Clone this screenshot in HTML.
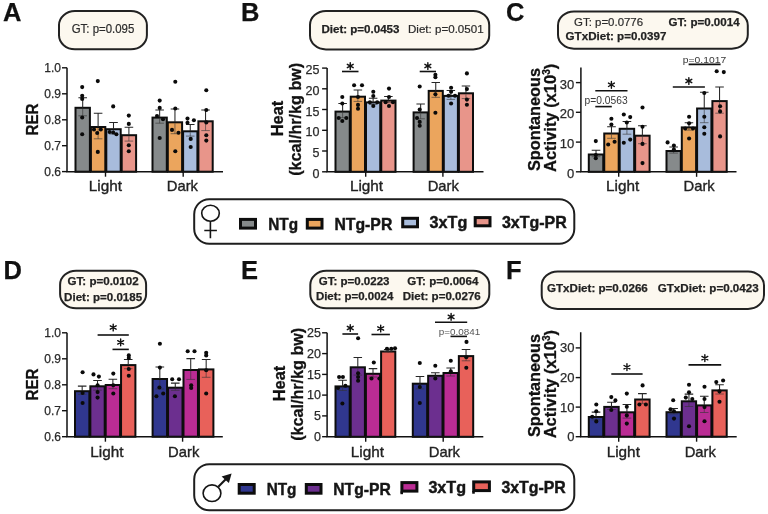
<!DOCTYPE html><html><head><meta charset="utf-8"><style>html,body{margin:0;padding:0;background:#fff;width:768px;height:514px;overflow:hidden}svg{display:block;will-change:transform}</style></head><body>
<svg width="768" height="514" viewBox="0 0 768 514" font-family='"Liberation Sans", sans-serif'>
<rect width="768" height="514" fill="#fff"/>
<text x="3" y="20.7" font-size="25.5" font-weight="bold" fill="#111" text-anchor="start" stroke="#111" stroke-width="0.25">A</text>
<text x="241" y="20.7" font-size="25.5" font-weight="bold" fill="#111" text-anchor="start" stroke="#111" stroke-width="0.25">B</text>
<text x="506" y="20.7" font-size="25.5" font-weight="bold" fill="#111" text-anchor="start" stroke="#111" stroke-width="0.25">C</text>
<text x="3.5" y="279.3" font-size="25.5" font-weight="bold" fill="#111" text-anchor="start" stroke="#111" stroke-width="0.25">D</text>
<text x="241" y="279.3" font-size="25.5" font-weight="bold" fill="#111" text-anchor="start" stroke="#111" stroke-width="0.25">E</text>
<text x="506" y="279.3" font-size="25.5" font-weight="bold" fill="#111" text-anchor="start" stroke="#111" stroke-width="0.25">F</text>
<rect x="59.0" y="11.1" width="87.90000000000002" height="38.2" rx="16" ry="14" fill="#fcf8ef" stroke="#222" stroke-width="2"/>
<text x="71.7" y="33.0" font-size="12.2" fill="#2b2b2b" text-anchor="start" textLength="62.6" lengthAdjust="spacingAndGlyphs" stroke="#2b2b2b" stroke-width="0.2">GT: p=0.095</text>
<rect x="310.0" y="11.0" width="179.2" height="38.4" rx="16" ry="14" fill="#fcf8ef" stroke="#222" stroke-width="2"/>
<text x="321.4" y="33.0" font-size="10.8" font-weight="bold" fill="#222" text-anchor="start" textLength="78.1" lengthAdjust="spacingAndGlyphs" stroke="#222" stroke-width="0.25">Diet: p=0.0453</text>
<text x="408" y="33.0" font-size="10.8" fill="#2b2b2b" text-anchor="start" textLength="75.6" lengthAdjust="spacingAndGlyphs" stroke="#2b2b2b" stroke-width="0.2">Diet: p=0.0501</text>
<rect x="558.0" y="11.4" width="189.8" height="37.3" rx="16" ry="14" fill="#fcf8ef" stroke="#222" stroke-width="2"/>
<text x="574.1" y="25.6" font-size="11.8" fill="#2b2b2b" text-anchor="start" textLength="69" lengthAdjust="spacingAndGlyphs" stroke="#2b2b2b" stroke-width="0.2">GT: p=0.0776</text>
<text x="668.6" y="25.6" font-size="11.6" font-weight="bold" fill="#222" text-anchor="start" textLength="71" lengthAdjust="spacingAndGlyphs" stroke="#222" stroke-width="0.25">GT: p=0.0014</text>
<text x="565.6" y="40.4" font-size="11.6" font-weight="bold" fill="#222" text-anchor="start" textLength="100.8" lengthAdjust="spacingAndGlyphs" stroke="#222" stroke-width="0.25">GTxDiet: p=0.0397</text>
<rect x="60.1" y="270.7" width="86.0" height="37.59999999999998" rx="16" ry="14" fill="#fcf8ef" stroke="#222" stroke-width="2"/>
<text x="67.6" y="285" font-size="11.2" font-weight="bold" fill="#222" text-anchor="start" textLength="71" lengthAdjust="spacingAndGlyphs" stroke="#222" stroke-width="0.25">GT: p=0.0102</text>
<text x="64.1" y="300.5" font-size="11.2" font-weight="bold" fill="#222" text-anchor="start" textLength="78" lengthAdjust="spacingAndGlyphs" stroke="#222" stroke-width="0.25">Diet: p=0.0185</text>
<rect x="310.29999999999995" y="270.79999999999995" width="179.0" height="37.500000000000014" rx="16" ry="14" fill="#fcf8ef" stroke="#222" stroke-width="2"/>
<text x="318.7" y="284.9" font-size="11.1" font-weight="bold" fill="#222" text-anchor="start" textLength="70.8" lengthAdjust="spacingAndGlyphs" stroke="#222" stroke-width="0.25">GT: p=0.0223</text>
<text x="315.9" y="300.2" font-size="11.1" font-weight="bold" fill="#222" text-anchor="start" textLength="77.4" lengthAdjust="spacingAndGlyphs" stroke="#222" stroke-width="0.25">Diet: p=0.0024</text>
<text x="407.3" y="284.9" font-size="11.1" font-weight="bold" fill="#222" text-anchor="start" textLength="71.1" lengthAdjust="spacingAndGlyphs" stroke="#222" stroke-width="0.25">GT: p=0.0064</text>
<text x="402.7" y="300.2" font-size="11.1" font-weight="bold" fill="#222" text-anchor="start" textLength="78.1" lengthAdjust="spacingAndGlyphs" stroke="#222" stroke-width="0.25">Diet: p=0.0276</text>
<rect x="541.6999999999999" y="271.4" width="222.3" height="37.500000000000014" rx="16" ry="14" fill="#fcf8ef" stroke="#222" stroke-width="2"/>
<text x="547" y="292.4" font-size="11.1" font-weight="bold" fill="#222" text-anchor="start" textLength="100.8" lengthAdjust="spacingAndGlyphs" stroke="#222" stroke-width="0.25">GTxDiet: p=0.0266</text>
<text x="657.7" y="292.4" font-size="11.1" font-weight="bold" fill="#222" text-anchor="start" textLength="101" lengthAdjust="spacingAndGlyphs" stroke="#222" stroke-width="0.25">GTxDiet: p=0.0423</text>
<rect x="75.50" y="107.80" width="14.40" height="63.90" fill="#868a8b" stroke="#0d0d0d" stroke-width="2"/>
<rect x="90.90" y="127.00" width="14.40" height="44.70" fill="#eba55d" stroke="#0d0d0d" stroke-width="2"/>
<rect x="106.30" y="129.20" width="14.40" height="42.50" fill="#a8bcdc" stroke="#0d0d0d" stroke-width="2"/>
<rect x="121.70" y="135.20" width="14.40" height="36.50" fill="#e8958a" stroke="#0d0d0d" stroke-width="2"/>
<path d="M82.70 97.80V107.80M78.39 97.80H87.01" stroke="#262626" stroke-width="1.05" fill="none"/>
<path d="M82.70 108.80V115.80M78.39 115.80H87.01" stroke="#333" stroke-opacity="0.6" stroke-width="1" fill="none"/>
<path d="M98.10 113.20V127.00M93.79 113.20H102.41" stroke="#262626" stroke-width="1.05" fill="none"/>
<path d="M98.10 128.00V138.80M93.79 138.80H102.41" stroke="#333" stroke-opacity="0.6" stroke-width="1" fill="none"/>
<path d="M113.50 122.40V129.20M109.19 122.40H117.81" stroke="#262626" stroke-width="1.05" fill="none"/>
<path d="M113.50 130.20V134.00M109.19 134.00H117.81" stroke="#333" stroke-opacity="0.6" stroke-width="1" fill="none"/>
<path d="M128.90 127.30V135.20M124.59 127.30H133.21" stroke="#262626" stroke-width="1.05" fill="none"/>
<path d="M128.90 136.20V141.10M124.59 141.10H133.21" stroke="#333" stroke-opacity="0.6" stroke-width="1" fill="none"/>
<rect x="152.50" y="117.60" width="14.30" height="54.10" fill="#868a8b" stroke="#0d0d0d" stroke-width="2"/>
<rect x="167.80" y="122.30" width="14.30" height="49.40" fill="#eba55d" stroke="#0d0d0d" stroke-width="2"/>
<rect x="183.10" y="131.30" width="14.30" height="40.40" fill="#a8bcdc" stroke="#0d0d0d" stroke-width="2"/>
<rect x="198.40" y="121.30" width="14.30" height="50.40" fill="#e8958a" stroke="#0d0d0d" stroke-width="2"/>
<path d="M159.65 110.00V117.60M155.37 110.00H163.93" stroke="#262626" stroke-width="1.05" fill="none"/>
<path d="M159.65 118.60V123.20M155.37 123.20H163.93" stroke="#333" stroke-opacity="0.6" stroke-width="1" fill="none"/>
<path d="M174.95 108.90V122.30M170.67 108.90H179.23" stroke="#262626" stroke-width="1.05" fill="none"/>
<path d="M174.95 123.30V133.70M170.67 133.70H179.23" stroke="#333" stroke-opacity="0.6" stroke-width="1" fill="none"/>
<path d="M190.25 124.50V131.30M185.97 124.50H194.53" stroke="#262626" stroke-width="1.05" fill="none"/>
<path d="M190.25 132.30V136.10M185.97 136.10H194.53" stroke="#333" stroke-opacity="0.6" stroke-width="1" fill="none"/>
<path d="M205.55 110.00V121.30M201.27 110.00H209.83" stroke="#262626" stroke-width="1.05" fill="none"/>
<path d="M205.55 122.30V130.60M201.27 130.60H209.83" stroke="#333" stroke-opacity="0.6" stroke-width="1" fill="none"/>
<circle cx="82.2" cy="87.1" r="2.05" fill="#0a0a0a"/>
<circle cx="82.2" cy="95.7" r="2.05" fill="#0a0a0a"/>
<circle cx="82.2" cy="98.9" r="2.05" fill="#0a0a0a"/>
<circle cx="82.2" cy="117.5" r="2.05" fill="#0a0a0a"/>
<circle cx="82.2" cy="134.2" r="2.05" fill="#0a0a0a"/>
<circle cx="97.8" cy="81.1" r="2.05" fill="#0a0a0a"/>
<circle cx="94" cy="129.5" r="2.05" fill="#0a0a0a"/>
<circle cx="100.8" cy="129.5" r="2.05" fill="#0a0a0a"/>
<circle cx="97.2" cy="133" r="2.05" fill="#0a0a0a"/>
<circle cx="97.8" cy="151.9" r="2.05" fill="#0a0a0a"/>
<circle cx="113.2" cy="106.4" r="2.05" fill="#0a0a0a"/>
<circle cx="109.6" cy="132" r="2.05" fill="#0a0a0a"/>
<circle cx="116.4" cy="134.2" r="2.05" fill="#0a0a0a"/>
<circle cx="113.2" cy="132.5" r="2.05" fill="#0a0a0a"/>
<circle cx="128.8" cy="115.6" r="2.05" fill="#0a0a0a"/>
<circle cx="128.8" cy="123.9" r="2.05" fill="#0a0a0a"/>
<circle cx="128.8" cy="145.3" r="2.05" fill="#0a0a0a"/>
<circle cx="128.8" cy="151.3" r="2.05" fill="#0a0a0a"/>
<circle cx="159.7" cy="100.6" r="2.05" fill="#0a0a0a"/>
<circle cx="159.7" cy="107.9" r="2.05" fill="#0a0a0a"/>
<circle cx="157" cy="116" r="2.05" fill="#0a0a0a"/>
<circle cx="163" cy="119.2" r="2.05" fill="#0a0a0a"/>
<circle cx="159.7" cy="138" r="2.05" fill="#0a0a0a"/>
<circle cx="175.3" cy="81.8" r="2.05" fill="#0a0a0a"/>
<circle cx="175.3" cy="108.5" r="2.05" fill="#0a0a0a"/>
<circle cx="172" cy="129.9" r="2.05" fill="#0a0a0a"/>
<circle cx="178.5" cy="132.7" r="2.05" fill="#0a0a0a"/>
<circle cx="175.3" cy="151.3" r="2.05" fill="#0a0a0a"/>
<circle cx="187.5" cy="118.6" r="2.05" fill="#0a0a0a"/>
<circle cx="193.9" cy="120.3" r="2.05" fill="#0a0a0a"/>
<circle cx="187.5" cy="122.8" r="2.05" fill="#0a0a0a"/>
<circle cx="190.7" cy="138.9" r="2.05" fill="#0a0a0a"/>
<circle cx="190.7" cy="147" r="2.05" fill="#0a0a0a"/>
<circle cx="206.3" cy="90.3" r="2.05" fill="#0a0a0a"/>
<circle cx="206.3" cy="110" r="2.05" fill="#0a0a0a"/>
<circle cx="206.3" cy="122.4" r="2.05" fill="#0a0a0a"/>
<circle cx="206.3" cy="135.2" r="2.05" fill="#0a0a0a"/>
<circle cx="206.3" cy="140.6" r="2.05" fill="#0a0a0a"/>
<path d="M67 67.8V171.7H223" stroke="#111" stroke-width="1.5" fill="none"/>
<path d="M62 67.8H67" stroke="#111" stroke-width="1.4"/>
<text x="61" y="71.94" font-size="12" fill="#2a2a2a" text-anchor="end" stroke="#2a2a2a" stroke-width="0.25">1.0</text>
<path d="M62 93.8H67" stroke="#111" stroke-width="1.4"/>
<text x="61" y="97.94" font-size="12" fill="#2a2a2a" text-anchor="end" stroke="#2a2a2a" stroke-width="0.25">0.9</text>
<path d="M62 119.8H67" stroke="#111" stroke-width="1.4"/>
<text x="61" y="123.94" font-size="12" fill="#2a2a2a" text-anchor="end" stroke="#2a2a2a" stroke-width="0.25">0.8</text>
<path d="M62 145.7H67" stroke="#111" stroke-width="1.4"/>
<text x="61" y="149.83999999999997" font-size="12" fill="#2a2a2a" text-anchor="end" stroke="#2a2a2a" stroke-width="0.25">0.7</text>
<path d="M62 171.6H67" stroke="#111" stroke-width="1.4"/>
<text x="61" y="175.73999999999998" font-size="12" fill="#2a2a2a" text-anchor="end" stroke="#2a2a2a" stroke-width="0.25">0.6</text>
<path d="M105.5 171.7V176.7" stroke="#111" stroke-width="1.4"/>
<text x="105.4" y="191.1" font-size="14.8" fill="#222" text-anchor="middle" textLength="33.2" lengthAdjust="spacingAndGlyphs" stroke="#222" stroke-width="0.35">Light</text>
<path d="M183.2 171.7V176.7" stroke="#111" stroke-width="1.4"/>
<text x="182.4" y="191.1" font-size="14.8" fill="#222" text-anchor="middle" textLength="31.2" lengthAdjust="spacingAndGlyphs" stroke="#222" stroke-width="0.35">Dark</text>
<rect x="335.50" y="111.60" width="14.25" height="60.20" fill="#868a8b" stroke="#0d0d0d" stroke-width="2"/>
<rect x="350.75" y="96.70" width="14.25" height="75.10" fill="#eba55d" stroke="#0d0d0d" stroke-width="2"/>
<rect x="366.00" y="102.40" width="14.25" height="69.40" fill="#a8bcdc" stroke="#0d0d0d" stroke-width="2"/>
<rect x="381.25" y="100.60" width="14.25" height="71.20" fill="#e8958a" stroke="#0d0d0d" stroke-width="2"/>
<path d="M342.62 103.50V111.60M338.36 103.50H346.89" stroke="#262626" stroke-width="1.05" fill="none"/>
<path d="M342.62 112.60V117.70M338.36 117.70H346.89" stroke="#333" stroke-opacity="0.6" stroke-width="1" fill="none"/>
<path d="M357.88 90.00V96.70M353.61 90.00H362.14" stroke="#262626" stroke-width="1.05" fill="none"/>
<path d="M357.88 97.70V101.40M353.61 101.40H362.14" stroke="#333" stroke-opacity="0.6" stroke-width="1" fill="none"/>
<path d="M373.12 98.30V102.40M368.86 98.30H377.39" stroke="#262626" stroke-width="1.05" fill="none"/>
<path d="M373.12 103.40V104.50M368.86 104.50H377.39" stroke="#333" stroke-opacity="0.6" stroke-width="1" fill="none"/>
<path d="M388.38 96.50V100.60M384.11 96.50H392.64" stroke="#262626" stroke-width="1.05" fill="none"/>
<path d="M388.38 101.60V102.70M384.11 102.70H392.64" stroke="#333" stroke-opacity="0.6" stroke-width="1" fill="none"/>
<rect x="413.60" y="112.40" width="14.10" height="59.40" fill="#868a8b" stroke="#0d0d0d" stroke-width="2"/>
<rect x="428.70" y="90.90" width="14.10" height="80.90" fill="#eba55d" stroke="#0d0d0d" stroke-width="2"/>
<rect x="443.80" y="95.90" width="14.10" height="75.90" fill="#a8bcdc" stroke="#0d0d0d" stroke-width="2"/>
<rect x="458.90" y="93.30" width="14.10" height="78.50" fill="#e8958a" stroke="#0d0d0d" stroke-width="2"/>
<path d="M420.65 104.00V112.40M416.42 104.00H424.88" stroke="#262626" stroke-width="1.05" fill="none"/>
<path d="M420.65 113.40V118.80M416.42 118.80H424.88" stroke="#333" stroke-opacity="0.6" stroke-width="1" fill="none"/>
<path d="M435.75 82.50V90.90M431.52 82.50H439.98" stroke="#262626" stroke-width="1.05" fill="none"/>
<path d="M435.75 91.90V97.30M431.52 97.30H439.98" stroke="#333" stroke-opacity="0.6" stroke-width="1" fill="none"/>
<path d="M450.85 90.40V95.90M446.62 90.40H455.08" stroke="#262626" stroke-width="1.05" fill="none"/>
<path d="M450.85 96.90V99.40M446.62 99.40H455.08" stroke="#333" stroke-opacity="0.6" stroke-width="1" fill="none"/>
<path d="M465.95 86.00V93.30M461.72 86.00H470.18" stroke="#262626" stroke-width="1.05" fill="none"/>
<path d="M465.95 94.30V98.60M461.72 98.60H470.18" stroke="#333" stroke-opacity="0.6" stroke-width="1" fill="none"/>
<circle cx="342.3" cy="97" r="2.05" fill="#0a0a0a"/>
<circle cx="342.3" cy="103.5" r="2.05" fill="#0a0a0a"/>
<circle cx="338.7" cy="118" r="2.05" fill="#0a0a0a"/>
<circle cx="346.3" cy="118" r="2.05" fill="#0a0a0a"/>
<circle cx="342.3" cy="121" r="2.05" fill="#0a0a0a"/>
<circle cx="354.1" cy="85.2" r="2.05" fill="#0a0a0a"/>
<circle cx="362" cy="85.2" r="2.05" fill="#0a0a0a"/>
<circle cx="358" cy="97" r="2.05" fill="#0a0a0a"/>
<circle cx="358" cy="104.9" r="2.05" fill="#0a0a0a"/>
<circle cx="358" cy="108.8" r="2.05" fill="#0a0a0a"/>
<circle cx="373.3" cy="91.7" r="2.05" fill="#0a0a0a"/>
<circle cx="369.9" cy="102.2" r="2.05" fill="#0a0a0a"/>
<circle cx="377.2" cy="102.2" r="2.05" fill="#0a0a0a"/>
<circle cx="373.3" cy="106" r="2.05" fill="#0a0a0a"/>
<circle cx="373.3" cy="96" r="2.05" fill="#0a0a0a"/>
<circle cx="389" cy="88.6" r="2.05" fill="#0a0a0a"/>
<circle cx="389" cy="97" r="2.05" fill="#0a0a0a"/>
<circle cx="385.6" cy="102.2" r="2.05" fill="#0a0a0a"/>
<circle cx="393" cy="102.2" r="2.05" fill="#0a0a0a"/>
<circle cx="389" cy="106" r="2.05" fill="#0a0a0a"/>
<circle cx="419.7" cy="86.5" r="2.05" fill="#0a0a0a"/>
<circle cx="419.7" cy="109.6" r="2.05" fill="#0a0a0a"/>
<circle cx="417" cy="118" r="2.05" fill="#0a0a0a"/>
<circle cx="419.7" cy="121.9" r="2.05" fill="#0a0a0a"/>
<circle cx="419.7" cy="125.8" r="2.05" fill="#0a0a0a"/>
<circle cx="435.4" cy="74.7" r="2.05" fill="#0a0a0a"/>
<circle cx="435.4" cy="77.3" r="2.05" fill="#0a0a0a"/>
<circle cx="435.4" cy="94.3" r="2.05" fill="#0a0a0a"/>
<circle cx="435.4" cy="112.7" r="2.05" fill="#0a0a0a"/>
<circle cx="451.1" cy="87.8" r="2.05" fill="#0a0a0a"/>
<circle cx="451.1" cy="91.7" r="2.05" fill="#0a0a0a"/>
<circle cx="448.5" cy="95.7" r="2.05" fill="#0a0a0a"/>
<circle cx="455" cy="95.7" r="2.05" fill="#0a0a0a"/>
<circle cx="451.1" cy="103.5" r="2.05" fill="#0a0a0a"/>
<circle cx="466.9" cy="73.4" r="2.05" fill="#0a0a0a"/>
<circle cx="466.9" cy="89.1" r="2.05" fill="#0a0a0a"/>
<circle cx="466.9" cy="99.6" r="2.05" fill="#0a0a0a"/>
<circle cx="466.9" cy="104.8" r="2.05" fill="#0a0a0a"/>
<path d="M327.1 68.1V171.8H483.5" stroke="#111" stroke-width="1.5" fill="none"/>
<path d="M322.1 68.1H327.1" stroke="#111" stroke-width="1.4"/>
<text x="319.5" y="74.21249999999999" font-size="12.5" fill="#2a2a2a" text-anchor="end" stroke="#2a2a2a" stroke-width="0.25">25</text>
<path d="M322.1 88.8H327.1" stroke="#111" stroke-width="1.4"/>
<text x="319.5" y="94.9125" font-size="12.5" fill="#2a2a2a" text-anchor="end" stroke="#2a2a2a" stroke-width="0.25">20</text>
<path d="M322.1 109.5H327.1" stroke="#111" stroke-width="1.4"/>
<text x="319.5" y="115.6125" font-size="12.5" fill="#2a2a2a" text-anchor="end" stroke="#2a2a2a" stroke-width="0.25">15</text>
<path d="M322.1 130.3H327.1" stroke="#111" stroke-width="1.4"/>
<text x="319.5" y="136.41250000000002" font-size="12.5" fill="#2a2a2a" text-anchor="end" stroke="#2a2a2a" stroke-width="0.25">10</text>
<path d="M322.1 151H327.1" stroke="#111" stroke-width="1.4"/>
<text x="319.5" y="157.1125" font-size="12.5" fill="#2a2a2a" text-anchor="end" stroke="#2a2a2a" stroke-width="0.25">5</text>
<path d="M322.1 171.8H327.1" stroke="#111" stroke-width="1.4"/>
<text x="319.5" y="177.91250000000002" font-size="12.5" fill="#2a2a2a" text-anchor="end" stroke="#2a2a2a" stroke-width="0.25">0</text>
<path d="M365.7 171.8V176.8" stroke="#111" stroke-width="1.4"/>
<text x="366.5" y="191.1" font-size="14.8" fill="#222" text-anchor="middle" textLength="33.2" lengthAdjust="spacingAndGlyphs" stroke="#222" stroke-width="0.35">Light</text>
<path d="M442.9 171.8V176.8" stroke="#111" stroke-width="1.4"/>
<text x="443.3" y="191.1" font-size="14.8" fill="#222" text-anchor="middle" textLength="31.2" lengthAdjust="spacingAndGlyphs" stroke="#222" stroke-width="0.35">Dark</text>
<rect x="588.80" y="154.50" width="14.45" height="17.30" fill="#868a8b" stroke="#0d0d0d" stroke-width="2"/>
<rect x="604.25" y="133.50" width="14.45" height="38.30" fill="#eba55d" stroke="#0d0d0d" stroke-width="2"/>
<rect x="619.70" y="128.80" width="14.45" height="43.00" fill="#a8bcdc" stroke="#0d0d0d" stroke-width="2"/>
<rect x="635.15" y="135.70" width="14.45" height="36.10" fill="#e8958a" stroke="#0d0d0d" stroke-width="2"/>
<path d="M596.02 150.30V154.50M591.70 150.30H600.35" stroke="#262626" stroke-width="1.05" fill="none"/>
<path d="M596.02 155.50V156.70M591.70 156.70H600.35" stroke="#333" stroke-opacity="0.6" stroke-width="1" fill="none"/>
<path d="M611.48 126.70V133.50M607.15 126.70H615.80" stroke="#262626" stroke-width="1.05" fill="none"/>
<path d="M611.48 134.50V138.30M607.15 138.30H615.80" stroke="#333" stroke-opacity="0.6" stroke-width="1" fill="none"/>
<path d="M626.92 121.40V128.80M622.60 121.40H631.25" stroke="#262626" stroke-width="1.05" fill="none"/>
<path d="M626.92 129.80V134.20M622.60 134.20H631.25" stroke="#333" stroke-opacity="0.6" stroke-width="1" fill="none"/>
<path d="M642.38 125.70V135.70M638.05 125.70H646.70" stroke="#262626" stroke-width="1.05" fill="none"/>
<path d="M642.38 136.70V143.70M638.05 143.70H646.70" stroke="#333" stroke-opacity="0.6" stroke-width="1" fill="none"/>
<rect x="666.50" y="151.00" width="14.30" height="20.80" fill="#868a8b" stroke="#0d0d0d" stroke-width="2"/>
<rect x="681.80" y="127.40" width="14.30" height="44.40" fill="#eba55d" stroke="#0d0d0d" stroke-width="2"/>
<rect x="697.10" y="108.50" width="14.30" height="63.30" fill="#a8bcdc" stroke="#0d0d0d" stroke-width="2"/>
<rect x="712.40" y="101.10" width="14.30" height="70.70" fill="#e8958a" stroke="#0d0d0d" stroke-width="2"/>
<path d="M673.65 146.90V151.00M669.37 146.90H677.93" stroke="#262626" stroke-width="1.05" fill="none"/>
<path d="M673.65 152.00V153.10M669.37 153.10H677.93" stroke="#333" stroke-opacity="0.6" stroke-width="1" fill="none"/>
<path d="M688.95 122.70V127.40M684.67 122.70H693.23" stroke="#262626" stroke-width="1.05" fill="none"/>
<path d="M688.95 128.40V130.10M684.67 130.10H693.23" stroke="#333" stroke-opacity="0.6" stroke-width="1" fill="none"/>
<path d="M704.25 92.30V108.50M699.97 92.30H708.53" stroke="#262626" stroke-width="1.05" fill="none"/>
<path d="M704.25 109.50V122.70M699.97 122.70H708.53" stroke="#333" stroke-opacity="0.6" stroke-width="1" fill="none"/>
<path d="M719.55 87.00V101.10M715.27 87.00H723.83" stroke="#262626" stroke-width="1.05" fill="none"/>
<path d="M719.55 102.10V113.20M715.27 113.20H723.83" stroke="#333" stroke-opacity="0.6" stroke-width="1" fill="none"/>
<circle cx="595.8" cy="141.1" r="2.05" fill="#0a0a0a"/>
<circle cx="595.8" cy="158.2" r="2.05" fill="#0a0a0a"/>
<circle cx="595.8" cy="155" r="2.05" fill="#0a0a0a"/>
<circle cx="611.4" cy="118.8" r="2.05" fill="#0a0a0a"/>
<circle cx="611.4" cy="124.6" r="2.05" fill="#0a0a0a"/>
<circle cx="608.2" cy="144.5" r="2.05" fill="#0a0a0a"/>
<circle cx="614.6" cy="141.7" r="2.05" fill="#0a0a0a"/>
<circle cx="623.8" cy="114.5" r="2.05" fill="#0a0a0a"/>
<circle cx="630.2" cy="117.1" r="2.05" fill="#0a0a0a"/>
<circle cx="626.8" cy="122.5" r="2.05" fill="#0a0a0a"/>
<circle cx="623.8" cy="142.8" r="2.05" fill="#0a0a0a"/>
<circle cx="630.2" cy="139.6" r="2.05" fill="#0a0a0a"/>
<circle cx="642.5" cy="107.5" r="2.05" fill="#0a0a0a"/>
<circle cx="642.5" cy="126.7" r="2.05" fill="#0a0a0a"/>
<circle cx="642.5" cy="143.9" r="2.05" fill="#0a0a0a"/>
<circle cx="642.5" cy="163.1" r="2.05" fill="#0a0a0a"/>
<circle cx="667.6" cy="142.4" r="2.05" fill="#0a0a0a"/>
<circle cx="673.9" cy="145.6" r="2.05" fill="#0a0a0a"/>
<circle cx="673.9" cy="149.5" r="2.05" fill="#0a0a0a"/>
<circle cx="689.1" cy="116.7" r="2.05" fill="#0a0a0a"/>
<circle cx="689.1" cy="123.2" r="2.05" fill="#0a0a0a"/>
<circle cx="685.2" cy="128.5" r="2.05" fill="#0a0a0a"/>
<circle cx="693" cy="128.5" r="2.05" fill="#0a0a0a"/>
<circle cx="689.1" cy="138.5" r="2.05" fill="#0a0a0a"/>
<circle cx="704.3" cy="93" r="2.05" fill="#0a0a0a"/>
<circle cx="704.3" cy="116.7" r="2.05" fill="#0a0a0a"/>
<circle cx="704.3" cy="127.2" r="2.05" fill="#0a0a0a"/>
<circle cx="704.3" cy="133.7" r="2.05" fill="#0a0a0a"/>
<circle cx="716.7" cy="71.3" r="2.05" fill="#0a0a0a"/>
<circle cx="723.8" cy="72.1" r="2.05" fill="#0a0a0a"/>
<circle cx="720.1" cy="106.2" r="2.05" fill="#0a0a0a"/>
<circle cx="720.1" cy="111.4" r="2.05" fill="#0a0a0a"/>
<circle cx="720.1" cy="136.4" r="2.05" fill="#0a0a0a"/>
<path d="M580.9 67.6V171.8H736.5" stroke="#111" stroke-width="1.5" fill="none"/>
<path d="M575.9 171.8H580.9" stroke="#111" stroke-width="1.4"/>
<text x="574.2" y="177.78500000000003" font-size="13" fill="#2a2a2a" text-anchor="end" stroke="#2a2a2a" stroke-width="0.25">0</text>
<path d="M575.9 142.1H580.9" stroke="#111" stroke-width="1.4"/>
<text x="574.2" y="148.08499999999998" font-size="13" fill="#2a2a2a" text-anchor="end" stroke="#2a2a2a" stroke-width="0.25">10</text>
<path d="M575.9 112.3H580.9" stroke="#111" stroke-width="1.4"/>
<text x="574.2" y="118.285" font-size="13" fill="#2a2a2a" text-anchor="end" stroke="#2a2a2a" stroke-width="0.25">20</text>
<path d="M575.9 82.6H580.9" stroke="#111" stroke-width="1.4"/>
<text x="574.2" y="88.585" font-size="13" fill="#2a2a2a" text-anchor="end" stroke="#2a2a2a" stroke-width="0.25">30</text>
<path d="M618.7 171.8V176.8" stroke="#111" stroke-width="1.4"/>
<text x="622.7" y="191.1" font-size="14.8" fill="#222" text-anchor="middle" textLength="33.2" lengthAdjust="spacingAndGlyphs" stroke="#222" stroke-width="0.35">Light</text>
<path d="M696.6 171.8V176.8" stroke="#111" stroke-width="1.4"/>
<text x="699.1" y="191.1" font-size="14.8" fill="#222" text-anchor="middle" textLength="31.2" lengthAdjust="spacingAndGlyphs" stroke="#222" stroke-width="0.35">Dark</text>
<rect x="75.00" y="391.20" width="14.35" height="45.50" fill="#30378f" stroke="#0d0d0d" stroke-width="2"/>
<rect x="90.35" y="386.30" width="14.35" height="50.40" fill="#6c2f8f" stroke="#0d0d0d" stroke-width="2"/>
<rect x="105.70" y="385.00" width="14.35" height="51.70" fill="#ba2c94" stroke="#0d0d0d" stroke-width="2"/>
<rect x="121.05" y="365.10" width="14.35" height="71.60" fill="#e8615a" stroke="#0d0d0d" stroke-width="2"/>
<path d="M82.17 386.10V391.20M77.88 386.10H86.47" stroke="#262626" stroke-width="1.05" fill="none"/>
<path d="M82.17 392.20V394.30M77.88 394.30H86.47" stroke="#333" stroke-opacity="0.6" stroke-width="1" fill="none"/>
<path d="M97.52 380.40V386.30M93.23 380.40H101.82" stroke="#262626" stroke-width="1.05" fill="none"/>
<path d="M97.52 387.30V390.20M93.23 390.20H101.82" stroke="#333" stroke-opacity="0.6" stroke-width="1" fill="none"/>
<path d="M112.88 379.30V385.00M108.58 379.30H117.17" stroke="#262626" stroke-width="1.05" fill="none"/>
<path d="M112.88 386.00V388.70M108.58 388.70H117.17" stroke="#333" stroke-opacity="0.6" stroke-width="1" fill="none"/>
<path d="M128.22 359.50V365.10M123.93 359.50H132.52" stroke="#262626" stroke-width="1.05" fill="none"/>
<path d="M128.22 366.10V368.70M123.93 368.70H132.52" stroke="#333" stroke-opacity="0.6" stroke-width="1" fill="none"/>
<rect x="152.60" y="379.00" width="14.45" height="57.70" fill="#30378f" stroke="#0d0d0d" stroke-width="2"/>
<rect x="168.05" y="387.70" width="14.45" height="49.00" fill="#6c2f8f" stroke="#0d0d0d" stroke-width="2"/>
<rect x="183.50" y="370.00" width="14.45" height="66.70" fill="#ba2c94" stroke="#0d0d0d" stroke-width="2"/>
<rect x="198.95" y="369.40" width="14.45" height="67.30" fill="#e8615a" stroke="#0d0d0d" stroke-width="2"/>
<path d="M159.82 367.00V379.00M155.50 367.00H164.15" stroke="#262626" stroke-width="1.05" fill="none"/>
<path d="M159.82 380.00V389.00M155.50 389.00H164.15" stroke="#333" stroke-opacity="0.6" stroke-width="1" fill="none"/>
<path d="M175.27 383.10V387.70M170.95 383.10H179.60" stroke="#262626" stroke-width="1.05" fill="none"/>
<path d="M175.27 388.70V390.30M170.95 390.30H179.60" stroke="#333" stroke-opacity="0.6" stroke-width="1" fill="none"/>
<path d="M190.72 358.60V370.00M186.40 358.60H195.05" stroke="#262626" stroke-width="1.05" fill="none"/>
<path d="M190.72 371.00V379.40M186.40 379.40H195.05" stroke="#333" stroke-opacity="0.6" stroke-width="1" fill="none"/>
<path d="M206.17 359.50V369.40M201.85 359.50H210.50" stroke="#262626" stroke-width="1.05" fill="none"/>
<path d="M206.17 370.40V377.30M201.85 377.30H210.50" stroke="#333" stroke-opacity="0.6" stroke-width="1" fill="none"/>
<circle cx="82.6" cy="372.2" r="2.05" fill="#0a0a0a"/>
<circle cx="82.6" cy="392.9" r="2.05" fill="#0a0a0a"/>
<circle cx="82.6" cy="403" r="2.05" fill="#0a0a0a"/>
<circle cx="93.5" cy="374.4" r="2.05" fill="#0a0a0a"/>
<circle cx="98.9" cy="376.6" r="2.05" fill="#0a0a0a"/>
<circle cx="97.6" cy="385.3" r="2.05" fill="#0a0a0a"/>
<circle cx="97.6" cy="392.1" r="2.05" fill="#0a0a0a"/>
<circle cx="97.6" cy="397.6" r="2.05" fill="#0a0a0a"/>
<circle cx="113.3" cy="373.6" r="2.05" fill="#0a0a0a"/>
<circle cx="113.3" cy="385.3" r="2.05" fill="#0a0a0a"/>
<circle cx="113.3" cy="393.5" r="2.05" fill="#0a0a0a"/>
<circle cx="128.8" cy="355.4" r="2.05" fill="#0a0a0a"/>
<circle cx="128.8" cy="358.1" r="2.05" fill="#0a0a0a"/>
<circle cx="128.8" cy="369" r="2.05" fill="#0a0a0a"/>
<circle cx="128.8" cy="375.8" r="2.05" fill="#0a0a0a"/>
<circle cx="159.9" cy="343.7" r="2.05" fill="#0a0a0a"/>
<circle cx="159.9" cy="367.6" r="2.05" fill="#0a0a0a"/>
<circle cx="159.4" cy="387.5" r="2.05" fill="#0a0a0a"/>
<circle cx="156.4" cy="396.2" r="2.05" fill="#0a0a0a"/>
<circle cx="163.2" cy="393.5" r="2.05" fill="#0a0a0a"/>
<circle cx="172.2" cy="379.3" r="2.05" fill="#0a0a0a"/>
<circle cx="179" cy="379.3" r="2.05" fill="#0a0a0a"/>
<circle cx="174.9" cy="396.2" r="2.05" fill="#0a0a0a"/>
<circle cx="187.7" cy="351.3" r="2.05" fill="#0a0a0a"/>
<circle cx="194.5" cy="351.3" r="2.05" fill="#0a0a0a"/>
<circle cx="191.2" cy="385.3" r="2.05" fill="#0a0a0a"/>
<circle cx="191.2" cy="388" r="2.05" fill="#0a0a0a"/>
<circle cx="206.2" cy="352.7" r="2.05" fill="#0a0a0a"/>
<circle cx="206.2" cy="355.4" r="2.05" fill="#0a0a0a"/>
<circle cx="206.2" cy="370.3" r="2.05" fill="#0a0a0a"/>
<circle cx="206.2" cy="393.5" r="2.05" fill="#0a0a0a"/>
<path d="M67 332.8V436.7H222.8" stroke="#111" stroke-width="1.5" fill="none"/>
<path d="M62 332.8H67" stroke="#111" stroke-width="1.4"/>
<text x="61" y="336.94" font-size="12" fill="#2a2a2a" text-anchor="end" stroke="#2a2a2a" stroke-width="0.25">1.0</text>
<path d="M62 358.8H67" stroke="#111" stroke-width="1.4"/>
<text x="61" y="362.94" font-size="12" fill="#2a2a2a" text-anchor="end" stroke="#2a2a2a" stroke-width="0.25">0.9</text>
<path d="M62 384.8H67" stroke="#111" stroke-width="1.4"/>
<text x="61" y="388.94" font-size="12" fill="#2a2a2a" text-anchor="end" stroke="#2a2a2a" stroke-width="0.25">0.8</text>
<path d="M62 410.7H67" stroke="#111" stroke-width="1.4"/>
<text x="61" y="414.84" font-size="12" fill="#2a2a2a" text-anchor="end" stroke="#2a2a2a" stroke-width="0.25">0.7</text>
<path d="M62 436.7H67" stroke="#111" stroke-width="1.4"/>
<text x="61" y="440.84" font-size="12" fill="#2a2a2a" text-anchor="end" stroke="#2a2a2a" stroke-width="0.25">0.6</text>
<path d="M105.4 436.7V441.7" stroke="#111" stroke-width="1.4"/>
<text x="106.9" y="456.6" font-size="14.8" fill="#222" text-anchor="middle" textLength="33.2" lengthAdjust="spacingAndGlyphs" stroke="#222" stroke-width="0.35">Light</text>
<path d="M182.6 436.7V441.7" stroke="#111" stroke-width="1.4"/>
<text x="183.7" y="456.6" font-size="14.8" fill="#222" text-anchor="middle" textLength="31.2" lengthAdjust="spacingAndGlyphs" stroke="#222" stroke-width="0.35">Dark</text>
<rect x="335.50" y="386.40" width="14.20" height="50.40" fill="#30378f" stroke="#0d0d0d" stroke-width="2"/>
<rect x="350.70" y="367.30" width="14.20" height="69.50" fill="#6c2f8f" stroke="#0d0d0d" stroke-width="2"/>
<rect x="365.90" y="373.80" width="14.20" height="63.00" fill="#ba2c94" stroke="#0d0d0d" stroke-width="2"/>
<rect x="381.10" y="351.50" width="14.20" height="85.30" fill="#e8615a" stroke="#0d0d0d" stroke-width="2"/>
<path d="M342.60 380.30V386.40M338.34 380.30H346.86" stroke="#262626" stroke-width="1.05" fill="none"/>
<path d="M342.60 387.40V390.50M338.34 390.50H346.86" stroke="#333" stroke-opacity="0.6" stroke-width="1" fill="none"/>
<path d="M357.80 357.50V367.30M353.54 357.50H362.06" stroke="#262626" stroke-width="1.05" fill="none"/>
<path d="M357.80 368.30V375.10M353.54 375.10H362.06" stroke="#333" stroke-opacity="0.6" stroke-width="1" fill="none"/>
<path d="M373.00 368.60V373.80M368.74 368.60H377.26" stroke="#262626" stroke-width="1.05" fill="none"/>
<path d="M373.00 374.80V377.00M368.74 377.00H377.26" stroke="#333" stroke-opacity="0.6" stroke-width="1" fill="none"/>
<path d="M388.20 349.40V351.50M383.94 349.40H392.46" stroke="#262626" stroke-width="1.05" fill="none"/>
<path d="M388.20 352.50V351.60M383.94 351.60H392.46" stroke="#333" stroke-opacity="0.6" stroke-width="1" fill="none"/>
<rect x="412.80" y="383.70" width="14.35" height="53.10" fill="#30378f" stroke="#0d0d0d" stroke-width="2"/>
<rect x="428.15" y="375.80" width="14.35" height="61.00" fill="#6c2f8f" stroke="#0d0d0d" stroke-width="2"/>
<rect x="443.50" y="373.00" width="14.35" height="63.80" fill="#ba2c94" stroke="#0d0d0d" stroke-width="2"/>
<rect x="458.85" y="356.10" width="14.35" height="80.70" fill="#e8615a" stroke="#0d0d0d" stroke-width="2"/>
<path d="M419.98 376.50V383.70M415.68 376.50H424.27" stroke="#262626" stroke-width="1.05" fill="none"/>
<path d="M419.98 384.70V388.90M415.68 388.90H424.27" stroke="#333" stroke-opacity="0.6" stroke-width="1" fill="none"/>
<path d="M435.33 372.80V375.80M431.03 372.80H439.62" stroke="#262626" stroke-width="1.05" fill="none"/>
<path d="M435.33 376.80V376.80M431.03 376.80H439.62" stroke="#333" stroke-opacity="0.6" stroke-width="1" fill="none"/>
<path d="M450.68 368.00V373.00M446.38 368.00H454.97" stroke="#262626" stroke-width="1.05" fill="none"/>
<path d="M450.68 374.00V376.00M446.38 376.00H454.97" stroke="#333" stroke-opacity="0.6" stroke-width="1" fill="none"/>
<path d="M466.03 349.40V356.10M461.73 349.40H470.32" stroke="#262626" stroke-width="1.05" fill="none"/>
<path d="M466.03 357.10V360.80M461.73 360.80H470.32" stroke="#333" stroke-opacity="0.6" stroke-width="1" fill="none"/>
<circle cx="339.1" cy="377" r="2.05" fill="#0a0a0a"/>
<circle cx="342.9" cy="377" r="2.05" fill="#0a0a0a"/>
<circle cx="345.4" cy="385.8" r="2.05" fill="#0a0a0a"/>
<circle cx="342.4" cy="403.5" r="2.05" fill="#0a0a0a"/>
<circle cx="338" cy="388" r="2.05" fill="#0a0a0a"/>
<circle cx="358.1" cy="338.2" r="2.05" fill="#0a0a0a"/>
<circle cx="358.1" cy="373.2" r="2.05" fill="#0a0a0a"/>
<circle cx="358.1" cy="377" r="2.05" fill="#0a0a0a"/>
<circle cx="358.1" cy="380.8" r="2.05" fill="#0a0a0a"/>
<circle cx="373.8" cy="362.5" r="2.05" fill="#0a0a0a"/>
<circle cx="371.5" cy="378.5" r="2.05" fill="#0a0a0a"/>
<circle cx="379.4" cy="378.5" r="2.05" fill="#0a0a0a"/>
<circle cx="387" cy="348.8" r="2.05" fill="#0a0a0a"/>
<circle cx="391.3" cy="348.8" r="2.05" fill="#0a0a0a"/>
<circle cx="395" cy="348.3" r="2.05" fill="#0a0a0a"/>
<circle cx="419.8" cy="363" r="2.05" fill="#0a0a0a"/>
<circle cx="419.8" cy="387" r="2.05" fill="#0a0a0a"/>
<circle cx="419.8" cy="403" r="2.05" fill="#0a0a0a"/>
<circle cx="435.3" cy="365.8" r="2.05" fill="#0a0a0a"/>
<circle cx="435.3" cy="378.5" r="2.05" fill="#0a0a0a"/>
<circle cx="450.8" cy="360.7" r="2.05" fill="#0a0a0a"/>
<circle cx="450.8" cy="371.4" r="2.05" fill="#0a0a0a"/>
<circle cx="466.5" cy="341.9" r="2.05" fill="#0a0a0a"/>
<circle cx="466.3" cy="357.3" r="2.05" fill="#0a0a0a"/>
<circle cx="466.3" cy="367.8" r="2.05" fill="#0a0a0a"/>
<path d="M327.1 332.8V436.8H483.3" stroke="#111" stroke-width="1.5" fill="none"/>
<path d="M322.1 332.8H327.1" stroke="#111" stroke-width="1.4"/>
<text x="321" y="337.1125" font-size="12.5" fill="#2a2a2a" text-anchor="end" stroke="#2a2a2a" stroke-width="0.25">25</text>
<path d="M322.1 353.6H327.1" stroke="#111" stroke-width="1.4"/>
<text x="321" y="357.9125" font-size="12.5" fill="#2a2a2a" text-anchor="end" stroke="#2a2a2a" stroke-width="0.25">20</text>
<path d="M322.1 374.4H327.1" stroke="#111" stroke-width="1.4"/>
<text x="321" y="378.7125" font-size="12.5" fill="#2a2a2a" text-anchor="end" stroke="#2a2a2a" stroke-width="0.25">15</text>
<path d="M322.1 395.1H327.1" stroke="#111" stroke-width="1.4"/>
<text x="321" y="399.4125" font-size="12.5" fill="#2a2a2a" text-anchor="end" stroke="#2a2a2a" stroke-width="0.25">10</text>
<path d="M322.1 415.9H327.1" stroke="#111" stroke-width="1.4"/>
<text x="321" y="420.2125" font-size="12.5" fill="#2a2a2a" text-anchor="end" stroke="#2a2a2a" stroke-width="0.25">5</text>
<path d="M322.1 436.7H327.1" stroke="#111" stroke-width="1.4"/>
<text x="321" y="441.0125" font-size="12.5" fill="#2a2a2a" text-anchor="end" stroke="#2a2a2a" stroke-width="0.25">0</text>
<path d="M365.7 436.8V441.8" stroke="#111" stroke-width="1.4"/>
<text x="367.4" y="456.6" font-size="14.8" fill="#222" text-anchor="middle" textLength="33.2" lengthAdjust="spacingAndGlyphs" stroke="#222" stroke-width="0.35">Light</text>
<path d="M443.2 436.8V441.8" stroke="#111" stroke-width="1.4"/>
<text x="444.4" y="456.6" font-size="14.8" fill="#222" text-anchor="middle" textLength="31.2" lengthAdjust="spacingAndGlyphs" stroke="#222" stroke-width="0.35">Dark</text>
<rect x="588.80" y="417.00" width="14.45" height="19.70" fill="#30378f" stroke="#0d0d0d" stroke-width="2"/>
<rect x="604.25" y="406.90" width="14.45" height="29.80" fill="#6c2f8f" stroke="#0d0d0d" stroke-width="2"/>
<rect x="619.70" y="412.30" width="14.45" height="24.40" fill="#ba2c94" stroke="#0d0d0d" stroke-width="2"/>
<rect x="635.15" y="399.50" width="14.45" height="37.20" fill="#e8615a" stroke="#0d0d0d" stroke-width="2"/>
<path d="M596.02 412.10V417.00M591.70 412.10H600.35" stroke="#262626" stroke-width="1.05" fill="none"/>
<path d="M596.02 418.00V419.90M591.70 419.90H600.35" stroke="#333" stroke-opacity="0.6" stroke-width="1" fill="none"/>
<path d="M611.48 402.30V406.90M607.15 402.30H615.80" stroke="#262626" stroke-width="1.05" fill="none"/>
<path d="M611.48 407.90V409.50M607.15 409.50H615.80" stroke="#333" stroke-opacity="0.6" stroke-width="1" fill="none"/>
<path d="M626.92 404.50V412.30M622.60 404.50H631.25" stroke="#262626" stroke-width="1.05" fill="none"/>
<path d="M626.92 413.30V418.10M622.60 418.10H631.25" stroke="#333" stroke-opacity="0.6" stroke-width="1" fill="none"/>
<path d="M642.38 393.60V399.50M638.05 393.60H646.70" stroke="#262626" stroke-width="1.05" fill="none"/>
<path d="M642.38 400.50V403.40M638.05 403.40H646.70" stroke="#333" stroke-opacity="0.6" stroke-width="1" fill="none"/>
<rect x="666.50" y="412.20" width="14.30" height="24.50" fill="#30378f" stroke="#0d0d0d" stroke-width="2"/>
<rect x="681.80" y="401.30" width="14.30" height="35.40" fill="#6c2f8f" stroke="#0d0d0d" stroke-width="2"/>
<rect x="697.10" y="405.40" width="14.30" height="31.30" fill="#ba2c94" stroke="#0d0d0d" stroke-width="2"/>
<rect x="712.40" y="390.40" width="14.30" height="46.30" fill="#e8615a" stroke="#0d0d0d" stroke-width="2"/>
<path d="M673.65 408.50V412.20M669.37 408.50H677.93" stroke="#262626" stroke-width="1.05" fill="none"/>
<path d="M673.65 413.20V413.90M669.37 413.90H677.93" stroke="#333" stroke-opacity="0.6" stroke-width="1" fill="none"/>
<path d="M688.95 394.10V401.30M684.67 394.10H693.23" stroke="#262626" stroke-width="1.05" fill="none"/>
<path d="M688.95 402.30V406.50M684.67 406.50H693.23" stroke="#333" stroke-opacity="0.6" stroke-width="1" fill="none"/>
<path d="M704.25 396.30V405.40M699.97 396.30H708.53" stroke="#262626" stroke-width="1.05" fill="none"/>
<path d="M704.25 406.40V412.50M699.97 412.50H708.53" stroke="#333" stroke-opacity="0.6" stroke-width="1" fill="none"/>
<path d="M719.55 384.80V390.40M715.27 384.80H723.83" stroke="#262626" stroke-width="1.05" fill="none"/>
<path d="M719.55 391.40V394.00M715.27 394.00H723.83" stroke="#333" stroke-opacity="0.6" stroke-width="1" fill="none"/>
<circle cx="596.3" cy="404.5" r="2.05" fill="#0a0a0a"/>
<circle cx="596.3" cy="411.3" r="2.05" fill="#0a0a0a"/>
<circle cx="592.2" cy="416.8" r="2.05" fill="#0a0a0a"/>
<circle cx="596.3" cy="421.4" r="2.05" fill="#0a0a0a"/>
<circle cx="611.3" cy="397.1" r="2.05" fill="#0a0a0a"/>
<circle cx="615.4" cy="400.4" r="2.05" fill="#0a0a0a"/>
<circle cx="611.3" cy="410" r="2.05" fill="#0a0a0a"/>
<circle cx="626.8" cy="393.6" r="2.05" fill="#0a0a0a"/>
<circle cx="626.8" cy="406.7" r="2.05" fill="#0a0a0a"/>
<circle cx="626.8" cy="415.4" r="2.05" fill="#0a0a0a"/>
<circle cx="626.8" cy="423.6" r="2.05" fill="#0a0a0a"/>
<circle cx="642.6" cy="385.4" r="2.05" fill="#0a0a0a"/>
<circle cx="639.4" cy="404.5" r="2.05" fill="#0a0a0a"/>
<circle cx="645.9" cy="404.5" r="2.05" fill="#0a0a0a"/>
<circle cx="673.2" cy="400.3" r="2.05" fill="#0a0a0a"/>
<circle cx="670.5" cy="409.3" r="2.05" fill="#0a0a0a"/>
<circle cx="674" cy="411.2" r="2.05" fill="#0a0a0a"/>
<circle cx="674" cy="418.6" r="2.05" fill="#0a0a0a"/>
<circle cx="689" cy="384.8" r="2.05" fill="#0a0a0a"/>
<circle cx="689" cy="392.2" r="2.05" fill="#0a0a0a"/>
<circle cx="685.8" cy="397.6" r="2.05" fill="#0a0a0a"/>
<circle cx="692.3" cy="399" r="2.05" fill="#0a0a0a"/>
<circle cx="689" cy="426.2" r="2.05" fill="#0a0a0a"/>
<circle cx="704.5" cy="386.7" r="2.05" fill="#0a0a0a"/>
<circle cx="704.5" cy="399" r="2.05" fill="#0a0a0a"/>
<circle cx="704.5" cy="407.1" r="2.05" fill="#0a0a0a"/>
<circle cx="704.5" cy="421.3" r="2.05" fill="#0a0a0a"/>
<circle cx="716.3" cy="382.1" r="2.05" fill="#0a0a0a"/>
<circle cx="723.1" cy="380.5" r="2.05" fill="#0a0a0a"/>
<circle cx="719.5" cy="391.4" r="2.05" fill="#0a0a0a"/>
<circle cx="719.5" cy="401.7" r="2.05" fill="#0a0a0a"/>
<path d="M580.7 332.3V436.7H736.7" stroke="#111" stroke-width="1.5" fill="none"/>
<path d="M575.7 436.7H580.7" stroke="#111" stroke-width="1.4"/>
<text x="574.5" y="441.185" font-size="13" fill="#2a2a2a" text-anchor="end" stroke="#2a2a2a" stroke-width="0.25">0</text>
<path d="M575.7 407.1H580.7" stroke="#111" stroke-width="1.4"/>
<text x="574.5" y="411.58500000000004" font-size="13" fill="#2a2a2a" text-anchor="end" stroke="#2a2a2a" stroke-width="0.25">10</text>
<path d="M575.7 377.6H580.7" stroke="#111" stroke-width="1.4"/>
<text x="574.5" y="382.08500000000004" font-size="13" fill="#2a2a2a" text-anchor="end" stroke="#2a2a2a" stroke-width="0.25">20</text>
<path d="M575.7 347.9H580.7" stroke="#111" stroke-width="1.4"/>
<text x="574.5" y="352.385" font-size="13" fill="#2a2a2a" text-anchor="end" stroke="#2a2a2a" stroke-width="0.25">30</text>
<path d="M618.7 436.7V441.7" stroke="#111" stroke-width="1.4"/>
<text x="623.3" y="456.6" font-size="14.8" fill="#222" text-anchor="middle" textLength="33.2" lengthAdjust="spacingAndGlyphs" stroke="#222" stroke-width="0.35">Light</text>
<path d="M696.6 436.7V441.7" stroke="#111" stroke-width="1.4"/>
<text x="700.3" y="456.6" font-size="14.8" fill="#222" text-anchor="middle" textLength="31.2" lengthAdjust="spacingAndGlyphs" stroke="#222" stroke-width="0.35">Dark</text>
<text transform="translate(37.9,135.5) rotate(-90)" font-size="16.5" font-weight="bold" fill="#111" stroke="#111" stroke-width="0.3" textLength="32" lengthAdjust="spacingAndGlyphs">RER</text>
<text transform="translate(37.9,400.5) rotate(-90)" font-size="16.5" font-weight="bold" fill="#111" stroke="#111" stroke-width="0.3" textLength="32" lengthAdjust="spacingAndGlyphs">RER</text>
<text transform="translate(282.5,136.3) rotate(-90)" font-size="16" font-weight="bold" fill="#111" stroke="#111" stroke-width="0.3" textLength="35.5" lengthAdjust="spacingAndGlyphs">Heat</text>
<text transform="translate(300.9,175.8) rotate(-90)" font-size="16" font-weight="bold" fill="#111" stroke="#111" stroke-width="0.3" textLength="113" lengthAdjust="spacingAndGlyphs">(kcal/hr/kg bw)</text>
<text transform="translate(284.9,401.3) rotate(-90)" font-size="16" font-weight="bold" fill="#111" stroke="#111" stroke-width="0.3" textLength="35.5" lengthAdjust="spacingAndGlyphs">Heat</text>
<text transform="translate(303.4,440.8) rotate(-90)" font-size="16" font-weight="bold" fill="#111" stroke="#111" stroke-width="0.3" textLength="113" lengthAdjust="spacingAndGlyphs">(kcal/hr/kg bw)</text>
<text transform="translate(539.7,171) rotate(-90)" font-size="16.5" font-weight="bold" fill="#111" stroke="#111" stroke-width="0.3" textLength="103" lengthAdjust="spacingAndGlyphs">Spontaneous</text>
<text transform="translate(556,172) rotate(-90)" font-size="16.5" font-weight="bold" fill="#111" stroke="#111" stroke-width="0.3">Activity (x10<tspan font-size="10" dy="-6">3</tspan><tspan dy="6">)</tspan></text>
<text transform="translate(539.7,437) rotate(-90)" font-size="16.5" font-weight="bold" fill="#111" stroke="#111" stroke-width="0.3" textLength="103" lengthAdjust="spacingAndGlyphs">Spontaneous</text>
<text transform="translate(556,438.3) rotate(-90)" font-size="16.5" font-weight="bold" fill="#111" stroke="#111" stroke-width="0.3">Activity (x10<tspan font-size="10" dy="-6">3</tspan><tspan dy="6">)</tspan></text>
<path d="M342 71.5H358.5" stroke="#111" stroke-width="1.6"/>
<path d="M350.25 62.60L350.25 69.40M347.31 64.30L353.19 67.70M353.19 64.30L347.31 67.70" stroke="#111" stroke-width="1.4" stroke-linecap="round"/>
<path d="M419.7 71.5H436" stroke="#111" stroke-width="1.6"/>
<path d="M427.85 62.60L427.85 69.40M424.91 64.30L430.79 67.70M430.79 64.30L424.91 67.70" stroke="#111" stroke-width="1.4" stroke-linecap="round"/>
<path d="M595.3 90.8H627.5" stroke="#111" stroke-width="1.6"/>
<path d="M611.40 81.40L611.40 88.20M608.46 83.10L614.34 86.50M614.34 83.10L608.46 86.50" stroke="#111" stroke-width="1.4" stroke-linecap="round"/>
<path d="M672.8 87H704.9" stroke="#111" stroke-width="1.6"/>
<path d="M688.85 77.60L688.85 84.40M685.91 79.30L691.79 82.70M691.79 79.30L685.91 82.70" stroke="#111" stroke-width="1.4" stroke-linecap="round"/>
<text x="584.6" y="103.6" font-size="10.6" fill="#383838" text-anchor="start" textLength="43" lengthAdjust="spacingAndGlyphs">p=0.0563</text>
<path d="M595.3 106.6H611.8" stroke="#111" stroke-width="1.6"/>
<text x="682.8" y="62.5" font-size="9.6" fill="#383838" text-anchor="start" textLength="43.4" lengthAdjust="spacingAndGlyphs">p=0.1017</text>
<path d="M688.6 64.4H720.6" stroke="#111" stroke-width="1.6"/>
<path d="M97.6 335H128.8" stroke="#111" stroke-width="1.6"/>
<path d="M113.20 324.10L113.20 330.90M110.26 325.80L116.14 329.20M116.14 325.80L110.26 329.20" stroke="#111" stroke-width="1.4" stroke-linecap="round"/>
<path d="M112.5 349.4H128.8" stroke="#111" stroke-width="1.6"/>
<path d="M120.65 339.00L120.65 345.80M117.71 340.70L123.59 344.10M123.59 340.70L117.71 344.10" stroke="#111" stroke-width="1.4" stroke-linecap="round"/>
<path d="M342.4 334H358.1" stroke="#111" stroke-width="1.6"/>
<path d="M350.25 324.60L350.25 331.40M347.31 326.30L353.19 329.70M353.19 326.30L347.31 329.70" stroke="#111" stroke-width="1.4" stroke-linecap="round"/>
<path d="M371.5 334.5H389.9" stroke="#111" stroke-width="1.6"/>
<path d="M380.70 325.10L380.70 331.90M377.76 326.80L383.64 330.20M383.64 326.80L377.76 330.20" stroke="#111" stroke-width="1.4" stroke-linecap="round"/>
<path d="M435 322.3H467.2" stroke="#111" stroke-width="1.6"/>
<path d="M451.10 313.50L451.10 320.30M448.16 315.20L454.04 318.60M454.04 315.20L448.16 318.60" stroke="#111" stroke-width="1.4" stroke-linecap="round"/>
<text x="438.7" y="334.6" font-size="9.3" fill="#555" text-anchor="start" textLength="41.5" lengthAdjust="spacingAndGlyphs">p=0.0841</text>
<path d="M450.5 336.4H467" stroke="#111" stroke-width="1.6"/>
<path d="M611.3 374H642.6" stroke="#111" stroke-width="1.6"/>
<path d="M626.95 363.80L626.95 370.60M624.01 365.50L629.89 368.90M629.89 365.50L624.01 368.90" stroke="#111" stroke-width="1.4" stroke-linecap="round"/>
<path d="M688.5 364.9H721.2" stroke="#111" stroke-width="1.6"/>
<path d="M704.85 354.70L704.85 361.50M701.91 356.40L707.79 359.80M707.79 356.40L701.91 359.80" stroke="#111" stroke-width="1.4" stroke-linecap="round"/>
<rect x="194.2" y="199.2" width="380.1" height="44.60000000000002" rx="15" ry="15" fill="#fff" stroke="#1e1e1e" stroke-width="2"/>
<rect x="240.5" y="219.4" width="15" height="8.699999999999989" fill="#868a8b" stroke="#0d0d0d" stroke-width="3"/>
<rect x="307.3" y="219.4" width="14.699999999999989" height="8.699999999999989" fill="#eba55d" stroke="#0d0d0d" stroke-width="3"/>
<rect x="402.7" y="218.3" width="14.800000000000011" height="8.5" fill="#a8bcdc" stroke="#0d0d0d" stroke-width="3"/>
<rect x="475.2" y="217.6" width="14.800000000000011" height="8.200000000000017" fill="#e8958a" stroke="#0d0d0d" stroke-width="3"/>
<text x="268.3" y="229.5" font-size="16.3" font-weight="bold" fill="#151515" text-anchor="start" textLength="29.8" lengthAdjust="spacingAndGlyphs" stroke="#151515" stroke-width="0.45">NTg</text>
<text x="334.4" y="229.5" font-size="16.3" font-weight="bold" fill="#151515" text-anchor="start" textLength="57.9" lengthAdjust="spacingAndGlyphs" stroke="#151515" stroke-width="0.45">NTg-PR</text>
<text x="429.6" y="228.0" font-size="16.3" font-weight="bold" fill="#151515" text-anchor="start" textLength="37.7" lengthAdjust="spacingAndGlyphs" stroke="#151515" stroke-width="0.45">3xTg</text>
<text x="501.9" y="227.5" font-size="16.3" font-weight="bold" fill="#151515" text-anchor="start" textLength="64.9" lengthAdjust="spacingAndGlyphs" stroke="#151515" stroke-width="0.45">3xTg-PR</text>
<rect x="194.2" y="464.2" width="380.1" height="46.10000000000002" rx="15" ry="15" fill="#fff" stroke="#1e1e1e" stroke-width="2"/>
<rect x="239.2" y="484.5" width="15.0" height="8.699999999999989" fill="#30378f" stroke="#0d0d0d" stroke-width="3"/>
<rect x="306.3" y="484.5" width="14.699999999999989" height="8.699999999999989" fill="#6c2f8f" stroke="#0d0d0d" stroke-width="3"/>
<rect x="401.9" y="482.6" width="15.0" height="8.5" fill="#ba2c94" stroke="#0d0d0d" stroke-width="3"/>
<rect x="400.4" y="491.6" width="2.6" height="2.6" fill="#0d0d0d"/>
<rect x="473.7" y="481.9" width="15.699999999999989" height="8.700000000000045" fill="#e8615a" stroke="#0d0d0d" stroke-width="3"/>
<rect x="472.2" y="491.1" width="2.6" height="2.6" fill="#0d0d0d"/>
<text x="266.7" y="494.5" font-size="16.3" font-weight="bold" fill="#151515" text-anchor="start" textLength="29.7" lengthAdjust="spacingAndGlyphs" stroke="#151515" stroke-width="0.45">NTg</text>
<text x="333.3" y="494.5" font-size="16.3" font-weight="bold" fill="#151515" text-anchor="start" textLength="57.5" lengthAdjust="spacingAndGlyphs" stroke="#151515" stroke-width="0.45">NTg-PR</text>
<text x="428.4" y="493.3" font-size="16.3" font-weight="bold" fill="#151515" text-anchor="start" textLength="37.7" lengthAdjust="spacingAndGlyphs" stroke="#151515" stroke-width="0.45">3xTg</text>
<text x="501.4" y="493.0" font-size="16.3" font-weight="bold" fill="#151515" text-anchor="start" textLength="64.4" lengthAdjust="spacingAndGlyphs" stroke="#151515" stroke-width="0.45">3xTg-PR</text>
<g stroke="#151515" stroke-width="1.6" fill="none"><ellipse cx="210.5" cy="213.3" rx="8.8" ry="8"/><path d="M210.4 221.3V238.3M204.3 230.5H216.9"/></g>
<g stroke="#151515" stroke-width="1.6" fill="none"><ellipse cx="212" cy="493.2" rx="8.9" ry="8.3"/><path d="M218.3 486.8L226.5 478.6" stroke-width="2.1"/></g>
<path d="M231.6 473.6L221.6 476.4L228.9 483.1Z" fill="#151515"/>
</svg></body></html>
